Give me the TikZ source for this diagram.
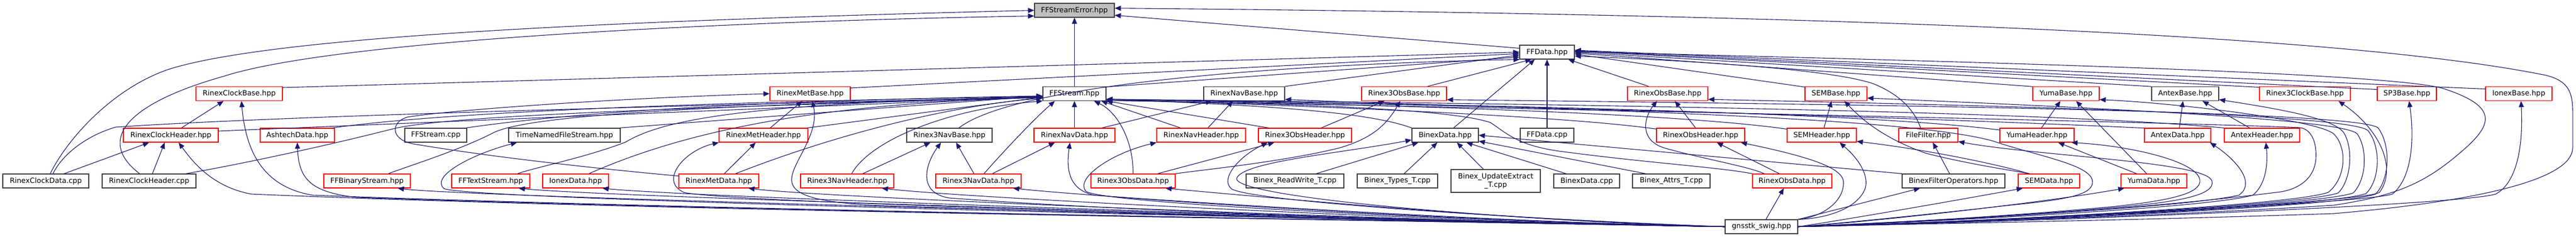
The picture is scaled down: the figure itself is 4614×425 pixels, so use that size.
\documentclass[tikz,border=0pt]{standalone}
\usepackage{fontspec}
\setmainfont{DejaVu Sans}
\usetikzlibrary{arrows.meta}
\definecolor{eb}{RGB}{25,25,112}
\definecolor{bg}{RGB}{64,64,64}
\definecolor{br}{RGB}{255,0,0}
\definecolor{gf}{RGB}{191,191,191}
\begin{document}
\begin{tikzpicture}[x=1pt,y=-1pt,
  box/.style={draw=bg, line width=1.2pt, fill=white, minimum height=25pt, inner sep=0pt, font=\fontsize{12.85}{15}\selectfont},
  rbox/.style={box, draw=br},
  edge/.style={draw=eb, line width=1.1pt, {Triangle[length=11pt,width=9pt]}-}]
\useasboundingbox (0,0) rectangle (4614,425);
% ---------------- nodes
\node[box, fill=gf, minimum width=143pt] (E) at (1924.5,18.5) {FFStreamError.hpp};
\node[box, minimum width=98pt] (D) at (2771,93.5) {FFData.hpp};
% row 3
\node[rbox, minimum width=155pt] (RCB) at (428.5,168) {RinexClockBase.hpp};
\node[rbox, minimum width=144pt] (RMB) at (1451,168) {RinexMetBase.hpp};
\node[box, minimum width=113pt] (FS) at (1924.5,168) {FFStream.hpp};
\node[box, minimum width=145pt] (RNB) at (2228.5,168) {RinexNavBase.hpp};
\node[rbox, minimum width=152pt] (R3OB) at (2515,168) {Rinex3ObsBase.hpp};
\node[rbox, minimum width=144pt] (ROB) at (2987,168) {RinexObsBase.hpp};
\node[rbox, minimum width=111pt] (SEMB) at (3288.5,168) {SEMBase.hpp};
\node[rbox, minimum width=119pt] (YB) at (3700.5,168) {YumaBase.hpp};
\node[box, minimum width=120pt] (AB) at (3914,168) {AntexBase.hpp};
\node[rbox, minimum width=163pt] (R3CB) at (4128.5,168) {Rinex3ClockBase.hpp};
\node[rbox, minimum width=106pt] (SP3B) at (4311,168) {SP3Base.hpp};
\node[rbox, minimum width=119pt] (IB) at (4511.5,168) {IonexBase.hpp};
% row 4
\node[rbox, minimum width=170pt] (RCH) at (306,242.5) {RinexClockHeader.hpp};
\node[rbox, minimum width=133pt] (AD) at (532.5,242.5) {AshtechData.hpp};
\node[box, minimum width=111pt] (FSC) at (780.5,242.5) {FFStream.cpp};
\node[box, minimum width=200pt] (TNFS) at (1011,242.5) {TimeNamedFileStream.hpp};
\node[rbox, minimum width=159pt] (RMH) at (1367.5,242.5) {RinexMetHeader.hpp};
\node[box, minimum width=153pt] (R3NB) at (1700.5,242.5) {Rinex3NavBase.hpp};
\node[rbox, minimum width=145pt] (RND) at (1924.5,242.5) {RinexNavData.hpp};
\node[rbox, minimum width=159pt] (RNH) at (2151.5,242.5) {RinexNavHeader.hpp};
\node[rbox, minimum width=167pt] (R3OH) at (2337.5,242.5) {Rinex3ObsHeader.hpp};
\node[box, minimum width=119pt] (BD) at (2588.5,242.5) {BinexData.hpp};
\node[box, minimum width=96pt] (FDC) at (2771,242.5) {FFData.cpp};
\node[rbox, minimum width=158pt] (ROH) at (3046,242.5) {RinexObsHeader.hpp};
\node[rbox, minimum width=124pt] (SEMH) at (3263,242.5) {SEMHeader.hpp};
\node[rbox, minimum width=106pt] (FF) at (3454,242.5) {FileFilter.hpp};
\node[rbox, minimum width=133pt] (YH) at (3648.5,242.5) {YumaHeader.hpp};
\node[rbox, minimum width=119pt] (ADa) at (3900.5,242.5) {AntexData.hpp};
\node[rbox, minimum width=135pt] (AH) at (4051.5,242.5) {AntexHeader.hpp};
% row 5
\node[box, minimum width=154pt] (RCDC) at (82,324.5) {RinexClockData.cpp};
\node[box, minimum width=168pt] (RCHC) at (267,324.5) {RinexClockHeader.cpp};
\node[rbox, minimum width=155pt] (FBS) at (657.5,324.5) {FFBinaryStream.hpp};
\node[rbox, minimum width=140pt] (FTS) at (879,324.5) {FFTextStream.hpp};
\node[rbox, minimum width=118pt] (ID) at (1031,324.5) {IonexData.hpp};
\node[rbox, minimum width=143pt] (RMD) at (1287.5,324.5) {RinexMetData.hpp};
\node[rbox, minimum width=167pt] (R3NH) at (1517.5,324.5) {Rinex3NavHeader.hpp};
\node[rbox, minimum width=153pt] (R3ND) at (1752.5,324.5) {Rinex3NavData.hpp};
\node[rbox, minimum width=151pt] (R3OD) at (2029.5,324.5) {Rinex3ObsData.hpp};
\node[box, minimum width=175pt] (BRW) at (2319.5,324.5) {Binex\_ReadWrite\_T.cpp};
\node[box, minimum width=144pt] (BT) at (2503,324.5) {Binex\_Types\_T.cpp};
\node[box, minimum width=160pt, minimum height=41pt, align=center] (BUE) at (2679,324.5) {Binex\_UpdateExtract\\\_T.cpp};
\node[box, minimum width=118pt] (BDC) at (2842,324.5) {BinexData.cpp};
\node[box, minimum width=139pt] (BA) at (2993.5,324.5) {Binex\_Attrs\_T.cpp};
\node[rbox, minimum width=142pt] (ROD) at (3210,324.5) {RinexObsData.hpp};
\node[box, minimum width=184pt] (BFO) at (3499,324.5) {BinexFilterOperators.hpp};
\node[rbox, minimum width=110pt] (SEMD) at (3670,324.5) {SEMData.hpp};
\node[rbox, minimum width=118pt] (YD) at (3858,324.5) {YumaData.hpp};
% row 6
\node[box, minimum width=130pt] (G) at (3155,406.5) {gnsstk\_swig.hpp};

% ---------------- edges: FFStreamError
\draw[edge] (E.south) -- (FS.north);
\draw[edge] (E.-7) -- (D.172);
\draw[edge] (E.3) .. controls (3300,26) and (4200,62) .. (4560,135) .. controls (4600,145) and (4608,165) .. (4608,200) -- (4608,265) .. controls (4608,320) and (4450,360) .. (4180,383) .. controls (3800,396) and (3400,402) .. (G.east);
\draw[edge] (E.west) .. controls (1200,35) and (500,60) .. (300,125) .. controls (200,160) and (120,250) .. ([xshift=8pt]RCDC.north);
\draw[edge] (E.188) .. controls (1300,38) and (600,72) .. (400,137) .. controls (230,185) and (170,250) .. ([xshift=-17pt]RCHC.north);

% ---------------- FFData
\draw[edge] (D.south) -- (FDC.north);
\draw[edge] (D.190) -- (FS.12);
\draw[edge] (D.180) -- (RCB.8);
\draw[edge] (D.183) -- (RMB.8);
\draw[edge] (D.195) .. controls (2300,115) and (1820,150) .. ([xshift=17pt]R3NB.north);
\draw[edge] (D.186) -- (RNB.north east);
\draw[edge] (D.205) -- ([xshift=42pt]R3OB.north);
\draw[edge] ([xshift=-22pt]D.south) -- ([xshift=15pt]BD.north);
\draw[edge] ([xshift=38pt]D.south) -- ([xshift=-34pt]ROB.north);
\draw[edge] (D.-4) -- (SEMB.168);
\draw[edge] (D.-2) -- (YB.168);
\draw[edge] (D.0) -- (AB.168);
\draw[edge] (D.2) -- (R3CB.172);
\draw[edge] (D.3) -- (SP3B.172);
\draw[edge] (D.4) -- (IB.172);
\draw[edge] (D.-8) .. controls (3100,112) and (3290,128) .. (3355,150) .. controls (3405,170) and (3430,200) .. ([xshift=-14pt]FF.north);
\draw[edge] (D.1) .. controls (3500,110) and (4300,130) .. (4380,160) .. controls (4470,190) and (4465,220) .. (4420,262) .. controls (4350,325) and (4300,350) .. (4180,368) .. controls (3800,392) and (3400,400) .. (G.east);

% ---------------- FFStream
\draw[edge] (FS.south) -- (RND.north);
\draw[edge] ([xshift=-35pt]FS.south) .. controls (1850,215) and (1790,280) .. ([xshift=10pt]R3ND.north);
\draw[edge] (FS.south west) .. controls (1700,195) and (1560,250) .. ([xshift=8pt]R3NH.north);
\draw[edge] ([xshift=35pt]FS.south) .. controls (2000,200) and (2030,250) .. (R3OD.north);
\draw[edge] ([xshift=48pt]FS.south) -- ([xshift=-37pt]RNH.north);
\draw[edge] (FS.south east) -- ([xshift=-65pt]R3OH.north);
\draw[edge] (FS.-10) .. controls (2250,188) and (2450,200) .. (BD.north west);
\draw[edge] (FS.-10) .. controls (2400,192) and (2800,208) .. (ROH.172);
\draw[edge] (FS.-10) .. controls (2500,188) and (3000,203) .. (SEMH.170);
\draw[edge] (FS.-10) .. controls (2700,188) and (3350,203) .. (YH.172);
\draw[edge] (FS.-10) .. controls (2900,192) and (3600,218) .. (ADa.168);
\draw[edge] (FS.-10) .. controls (3000,188) and (3700,203) .. (AH.north west);
\draw[edge] (FS.-12) .. controls (2300,185) and (2600,195) .. (2670,220) .. controls (2700,240) and (2720,262) .. (2800,272) .. controls (2950,292) and (3080,300) .. (ROD.north west);
\draw[edge] (FS.-12) .. controls (2800,195) and (4000,222) .. (4120,229) .. controls (4140,232) and (4150,255) .. (4148,285) .. controls (4145,325) and (4110,342) .. (4077,345) .. controls (3800,380) and (3400,400) .. (G.east);
% left side includers of FFStream
\draw[edge] (FS.186) .. controls (1200,190) and (500,208) .. (207,228) .. controls (150,245) and (110,280) .. ([xshift=13pt]RCDC.north);
\draw[edge] (FS.186) -- (RCH.5);
\draw[edge] (FS.186) .. controls (1300,192) and (800,205) .. (700,232) .. controls (550,270) and (400,300) .. ([xshift=66pt]RCHC.north);
\draw[edge] (FS.185) .. controls (1300,182) and (800,200) .. ([xshift=-4pt]AD.north east);
\draw[edge] (FS.184) .. controls (1300,182) and (1000,205) .. ([xshift=-2pt]FSC.north east);
\draw[edge] (FS.184) -- ([xshift=-2pt]TNFS.north east);
\draw[edge] (FS.186) .. controls (1200,190) and (930,210) .. (880,240) .. controls (820,270) and (740,295) .. ([xshift=38pt]FBS.north);
\draw[edge] (FS.186) .. controls (1300,185) and (1180,220) .. (1120,255) .. controls (1050,282) and (960,300) .. ([xshift=48pt]FTS.north);
\draw[edge] (FS.187) .. controls (1500,185) and (1250,225) .. ([xshift=24pt]ID.north);
\draw[edge] (FS.186) -- ([xshift=-2pt]RMH.north east);
\draw[edge] (FS.188) .. controls (1700,190) and (1500,240) .. ([xshift=30pt]RMD.north);

% ---------------- RinexClock
\draw[edge] ([xshift=-28pt]RCB.south) -- ([xshift=19pt]RCH.north);
\draw[edge] ([xshift=-39pt]RCH.south) -- ([xshift=33pt]RCDC.north);
\draw[edge] ([xshift=-11pt]RCH.south) -- ([xshift=6pt]RCHC.north);

% ---------------- RinexMet
\draw[edge] ([xshift=-14pt]RMB.south) -- ([xshift=12pt]RMH.north);
\draw[edge] ([xshift=-14pt]RMH.south) -- ([xshift=10pt]RMD.north);
\draw[edge] (RMB.west) .. controls (1100,176) and (800,198) .. (730,210) .. controls (700,218) and (698,250) .. (740,258) .. controls (900,285) and (1100,305) .. (RMD.173);

% ---------------- Rinex3Nav / RinexNav
\draw[edge] ([xshift=-34pt]R3NB.south) -- ([xshift=28pt]R3NH.north);
\draw[edge] ([xshift=12pt]R3NB.south) -- ([xshift=-8pt]R3ND.north);
\draw[edge] ([xshift=-35pt]RND.south) -- ([xshift=25pt]R3ND.north);
\draw[edge] ([xshift=-58pt]RNB.south) -- ([xshift=49pt]RND.north);
\draw[edge] ([xshift=-20pt]RNB.south) -- ([xshift=12pt]RNH.north);

% ---------------- Rinex3Obs
\draw[edge] ([xshift=-35pt]R3OB.south) -- ([xshift=29pt]R3OH.north);
\draw[edge] ([xshift=-7pt]R3OB.south) .. controls (2480,230) and (2450,250) .. (2400,265) .. controls (2300,290) and (2150,305) .. (R3OD.north east);
\draw[edge] ([xshift=-55pt]R3OH.south) -- ([xshift=44pt]R3OD.north);

% ---------------- Binex
\draw[edge] ([xshift=-48pt]BD.south) -- ([xshift=38pt]BRW.north);
\draw[edge] ([xshift=-14pt]BD.south) -- ([xshift=12pt]BT.north);
\draw[edge] ([xshift=21pt]BD.south) -- ([xshift=-22pt]BUE.north);
\draw[edge] ([xshift=38pt]BD.south) -- ([xshift=-37pt]BDC.north);
\draw[edge] (BD.-10) -- ([xshift=-46pt]BA.north);
\draw[edge] (BD.east) -- (BFO.north west);
\draw[edge] ([xshift=8pt]FF.south) -- ([xshift=-7pt]BFO.north);

% ---------------- RinexObs
\draw[edge] ([xshift=13pt]ROB.south) -- ([xshift=-9pt]ROH.north);
\draw[edge] ([xshift=-19pt]ROB.south) .. controls (2945,210) and (2935,250) .. (2980,265) .. controls (3050,285) and (3130,298) .. ([xshift=-50pt]ROD.north);
\draw[edge] ([xshift=29pt]ROH.south) -- ([xshift=-23pt]ROD.north);

% ---------------- SEM
\draw[edge] ([xshift=-8pt]SEMB.south) -- ([xshift=4pt]SEMH.north);
\draw[edge] ([xshift=15pt]SEMB.south) .. controls (3340,220) and (3380,250) .. (3450,275) .. controls (3530,295) and (3600,305) .. ([xshift=-35pt]SEMD.north);
\draw[edge] (SEMH.-10) .. controls (3450,268) and (3580,295) .. ([xshift=-36pt]SEMD.north);

% ---------------- Yuma
\draw[edge] ([xshift=-10pt]YB.south) -- ([xshift=8pt]YH.north);
\draw[edge] ([xshift=18pt]YB.south) -- ([xshift=-13pt]YD.north);
\draw[edge] ([xshift=38pt]YH.south) -- ([xshift=-31pt]YD.north);

% ---------------- Antex
\draw[edge] ([xshift=-4pt]AB.south) -- ([xshift=3pt]ADa.north);
\draw[edge] ([xshift=31pt]AB.south) -- ([xshift=-22pt]AH.north);

% ---------------- gnsstk_swig, left side
\draw[edge] ([xshift=14pt]RCH.south) .. controls (345,290) and (380,335) .. (450,348) .. controls (1200,380) and (2700,398) .. (G.west);
\draw[edge] ([xshift=4pt]RCB.south) .. controls (440,270) and (470,335) .. (560,350) .. controls (1300,378) and (2700,399) .. (G.west);
\draw[edge] (AD.south) .. controls (535,320) and (555,345) .. (640,354) .. controls (1300,378) and (2700,399) .. (G.west);
\draw[edge] ([xshift=55pt]FBS.south) .. controls (850,355) and (2700,400) .. (G.west);
\draw[edge] ([xshift=-85pt]TNFS.south) .. controls (850,275) and (770,315) .. (795,338) .. controls (830,360) and (2600,398) .. (G.west);
\draw[edge] ([xshift=50pt]FTS.south) .. controls (1100,355) and (2700,400) .. (G.west);
\draw[edge] ([xshift=48pt]ID.south) .. controls (1250,355) and (2700,401) .. (G.west);
\draw[edge] (RMH.south west) .. controls (1225,270) and (1180,325) .. (1225,345) .. controls (1300,365) and (2600,398) .. (G.west);
\draw[edge] ([xshift=4pt]RMB.south) .. controls (1468,240) and (1420,290) .. (1418,320) .. controls (1415,352) and (1470,362) .. (1560,368) .. controls (2200,390) and (2800,402) .. (G.west);
\draw[edge] ([xshift=53pt]RMD.south) .. controls (1500,357) and (2700,402) .. (G.west);
\draw[edge] ([xshift=62pt]R3NH.south) .. controls (1750,357) and (2700,402) .. (G.west);
\draw[edge] ([xshift=-15pt]R3NB.south) .. controls (1660,290) and (1640,345) .. (1700,355) .. controls (2100,385) and (2800,402) .. (G.west);
\draw[edge] ([xshift=62pt]R3ND.south) .. controls (2000,357) and (2750,402) .. (G.west);
\draw[edge] ([xshift=-8pt]RND.south) .. controls (1910,300) and (1912,340) .. (1960,350) .. controls (2300,378) and (2800,402) .. (G.west);
\draw[edge] (RNH.south west) .. controls (1990,275) and (1925,320) .. (1945,343) .. controls (1975,365) and (2600,395) .. (G.west);
\draw[edge] ([xshift=58pt]R3OD.south) .. controls (2300,357) and (2800,402) .. (G.west);
\draw[edge] ([xshift=-67pt]R3OH.south) .. controls (2220,280) and (2185,320) .. (2205,338) .. controls (2230,360) and (2700,392) .. (G.west);
\draw[edge] (BD.188) .. controls (2400,275) and (2225,290) .. (2215,320) .. controls (2210,350) and (2600,390) .. (G.west);

% ---------------- gnsstk_swig, right side
\draw[edge] ([xshift=-15pt]ROD.south) -- ([xshift=8pt]G.north);
\draw[edge] ([xshift=72pt]ROH.south) .. controls (3260,285) and (3305,305) .. (3302,330) .. controls (3300,365) and (3260,390) .. (G.north east);
\draw[edge] ([xshift=32pt]SEMH.south) .. controls (3335,290) and (3348,320) .. (3340,340) .. controls (3325,375) and (3270,392) .. (G.north east);
\draw[edge] ([xshift=-60pt]BFO.south) -- (G.north east);
\draw[edge] ([xshift=-47pt]SEMD.south) .. controls (3500,360) and (3300,395) .. (G.east);
\draw[edge] ([xshift=-53pt]YD.south) .. controls (3650,365) and (3350,398) .. (G.east);
\draw[edge] ([xshift=58pt]ADa.south) .. controls (4010,290) and (4040,330) .. (4010,350) .. controls (3900,375) and (3400,398) .. (G.east);
\draw[edge] ([xshift=7pt]AH.south) .. controls (4062,290) and (4060,330) .. (4035,350) .. controls (3950,375) and (3400,400) .. (G.east);
\draw[edge] ([xshift=60pt]R3CB.south) .. controls (4260,230) and (4295,300) .. (4262,345) .. controls (4230,365) and (3500,400) .. (G.east);
\draw[edge] ([xshift=4pt]SP3B.south) .. controls (4325,250) and (4320,320) .. (4285,348) .. controls (4240,365) and (3500,400) .. (G.east);
\draw[edge] ([xshift=4pt]IB.south) .. controls (4520,270) and (4505,330) .. (4470,348) .. controls (4400,370) and (3500,402) .. (G.east);
% loops into right sides
\draw[edge] (YH.-12) .. controls (3820,262) and (3935,290) .. (3940,322) .. controls (3945,348) and (3880,360) .. (3790,370) .. controls (3600,388) and (3350,402) .. (G.east);
\draw[edge] (FF.-12) .. controls (3650,280) and (3955,290) .. (3962,325) .. controls (3968,350) and (3900,362) .. (3800,371) .. controls (3600,389) and (3350,402) .. (G.east);
\draw[edge] (RNB.-8) .. controls (2700,195) and (3400,205) .. (3570,253) .. controls (3650,280) and (3745,295) .. (3748,325) .. controls (3750,350) and (3700,358) .. (3600,368) .. controls (3450,385) and (3300,400) .. (G.east);
\draw[edge] (YB.-10) .. controls (3900,185) and (4150,215) .. (4180,240) .. controls (4205,265) and (4202,320) .. (4170,345) .. controls (4100,370) and (3500,400) .. (G.east);
\draw[edge] (AB.-10) .. controls (4080,195) and (4180,212) .. (4198,238) .. controls (4215,265) and (4212,322) .. (4188,346) .. controls (4120,370) and (3500,400) .. (G.east);
\draw[edge] (SEMB.-8) .. controls (3800,195) and (4200,215) .. (4222,240) .. controls (4240,265) and (4240,320) .. (4215,346) .. controls (4150,370) and (3500,400) .. (G.east);
\draw[edge] (ROB.-8) .. controls (3600,190) and (4222,205) .. (4242,235) .. controls (4265,265) and (4263,322) .. (4238,347) .. controls (4170,372) and (3500,401) .. (G.east);
\draw[edge] (R3OB.-8) .. controls (3400,188) and (4240,200) .. (4260,230) .. controls (4283,262) and (4280,322) .. (4255,348) .. controls (4190,373) and (3500,401) .. (G.east);
\end{tikzpicture}
\end{document}
